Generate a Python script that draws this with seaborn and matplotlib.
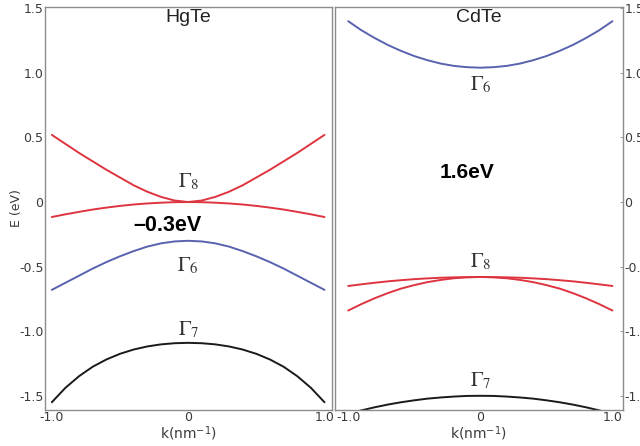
import numpy as np
import pandas as pd
import matplotlib
matplotlib.use("Agg")
import matplotlib.pyplot as plt
import seaborn as sns

# ---------------- data ----------------
k = [-1.0, -0.9, -0.8, -0.7, -0.6, -0.5, -0.4, -0.3, -0.2, -0.1, 0.0,
     0.1, 0.2, 0.3, 0.4, 0.5, 0.6, 0.7, 0.8, 0.9, 1.0]

hgte_g8_upper = [0.52, 0.45, 0.38, 0.315, 0.25, 0.19, 0.13, 0.08, 0.04, 0.012, 0.0,
                 0.012, 0.04, 0.08, 0.13, 0.19, 0.25, 0.315, 0.38, 0.45, 0.52]
hgte_g8_lower = [-0.116, -0.095, -0.076, -0.058, -0.043, -0.03, -0.019, -0.011, -0.005, -0.001, 0.0,
                 -0.001, -0.005, -0.011, -0.019, -0.03, -0.043, -0.058, -0.076, -0.095, -0.116]
hgte_g6 = [-0.68, -0.625, -0.57, -0.515, -0.465, -0.42, -0.38, -0.345, -0.32, -0.305, -0.30,
           -0.305, -0.32, -0.345, -0.38, -0.42, -0.465, -0.515, -0.57, -0.625, -0.68]
hgte_g7 = [-1.55, -1.438, -1.348, -1.275, -1.219, -1.175, -1.142, -1.118, -1.102, -1.093, -1.09,
           -1.093, -1.102, -1.118, -1.142, -1.175, -1.219, -1.275, -1.348, -1.438, -1.55]

cdte_g6 = [1.40, 1.33, 1.27, 1.216, 1.17, 1.13, 1.098, 1.072, 1.054, 1.044, 1.04,
           1.044, 1.054, 1.072, 1.098, 1.13, 1.17, 1.216, 1.27, 1.33, 1.40]
cdte_g8_flat = [-0.65, -0.637, -0.625, -0.614, -0.605, -0.597, -0.591, -0.586, -0.583, -0.581, -0.58,
                -0.581, -0.583, -0.586, -0.591, -0.597, -0.605, -0.614, -0.625, -0.637, -0.65]
cdte_g8_steep = [-0.84, -0.79, -0.745, -0.705, -0.67, -0.643, -0.62, -0.603, -0.59, -0.583, -0.58,
                 -0.583, -0.59, -0.603, -0.62, -0.643, -0.67, -0.705, -0.745, -0.79, -0.84]
cdte_g7 = [-1.64, -1.613, -1.589, -1.568, -1.55, -1.535, -1.522, -1.513, -1.506, -1.501, -1.50,
           -1.501, -1.506, -1.513, -1.522, -1.535, -1.55, -1.568, -1.589, -1.613, -1.64]

panel_titles = ["HgTe", "CdTe"]
y_ticks = [-1.5, -1.0, -0.5, 0.0, 0.5, 1.0, 1.5]
y_ticklabels = ["-1.5", "-1.0", "-0.5", "0", "0.5", "1.0", "1.5"]
x_ticks = [-1.0, 0.0, 1.0]
x_ticklabels = ["-1.0", "0", "1.0"]

# ---------------- style ----------------
sns.set_style("white")
plt.rcParams["font.family"] = ["DejaVu Sans"]
plt.rcParams["mathtext.fontset"] = "stix"

RED = "#de3440"
BLUE = "#5862ae"
BLACK = "#1a1a1a"
SPINE = "#8c8c8c"
TXT = "#3a3a3a"

fig = plt.figure(figsize=(6.4, 4.46), dpi=100)
W, H = 640.0, 446.0
axL = fig.add_axes([45 / W, 1 - 410 / H, (332 - 45) / W, (410 - 7) / H])
axR = fig.add_axes([335 / W, 1 - 410 / H, (623 - 335) / W, (410 - 7) / H])

lw = 1.4
sns.lineplot(x=k, y=hgte_g8_upper, ax=axL, color=RED, linewidth=lw)
sns.lineplot(x=k, y=hgte_g8_lower, ax=axL, color=RED, linewidth=lw)
sns.lineplot(x=k, y=hgte_g6, ax=axL, color=BLUE, linewidth=lw)
sns.lineplot(x=k, y=hgte_g7, ax=axL, color=BLACK, linewidth=lw)

sns.lineplot(x=k, y=cdte_g6, ax=axR, color=BLUE, linewidth=lw)
sns.lineplot(x=k, y=cdte_g8_flat, ax=axR, color=RED, linewidth=lw)
sns.lineplot(x=k, y=cdte_g8_steep, ax=axR, color=RED, linewidth=lw)
sns.lineplot(x=k, y=cdte_g7, ax=axR, color=BLACK, linewidth=lw)

axL.set_xlim(-1.05, 1.055)
axR.set_xlim(-1.10, 1.08)
for ax, title in zip([axL, axR], panel_titles):
    ax.set_ylim(-1.61, 1.51)
    ax.set_xticks(x_ticks)
    ax.set_xticklabels(x_ticklabels)
    ax.set_yticks(y_ticks)
    ax.set_yticklabels(y_ticklabels)
    for s in ax.spines.values():
        s.set_color(SPINE)
        s.set_linewidth(1.0)
    ax.tick_params(axis="both", labelsize=9, colors=SPINE, labelcolor=TXT,
                   length=2, width=0.6, pad=1, direction="in")
    ax.set_xlabel("k(nm$^{\\mathregular{-1}}$)", fontsize=10, color=TXT, labelpad=0)
    ax.text(0.5, 0.973, title, transform=ax.transAxes, ha="center", va="center",
            fontsize=14, color="#222222", family="Liberation Sans")

axL.set_ylabel("E (eV)", fontsize=9, color=TXT, labelpad=-3)
axR.yaxis.tick_right()
axR.yaxis.set_label_position("right")
axR.set_ylabel("E (eV)", fontsize=9, color=TXT, labelpad=2)

gkw = dict(ha="center", va="center", fontsize=15, color="#333333")
axL.text(0.0, 0.155, r"$\Gamma_8$", **gkw)
axL.text(0.0, -0.49, r"$\Gamma_6$", **gkw)
axL.text(0.0, -0.99, r"$\Gamma_7$", **gkw)
axL.text(-0.15, -0.18, "\u20130.3eV", ha="center", va="center", fontsize=15.5,
         fontweight="bold", color="black", family="Liberation Sans")

axR.text(0.0, 0.91, r"$\Gamma_6$", **gkw)
axR.text(0.0, -0.46, r"$\Gamma_8$", **gkw)
axR.text(0.0, -1.38, r"$\Gamma_7$", **gkw)
axR.text(-0.1, 0.23, "1.6eV", ha="center", va="center", fontsize=15,
         fontweight="bold", color="black", family="Liberation Sans")

fig.savefig("out.png", dpi=100)
